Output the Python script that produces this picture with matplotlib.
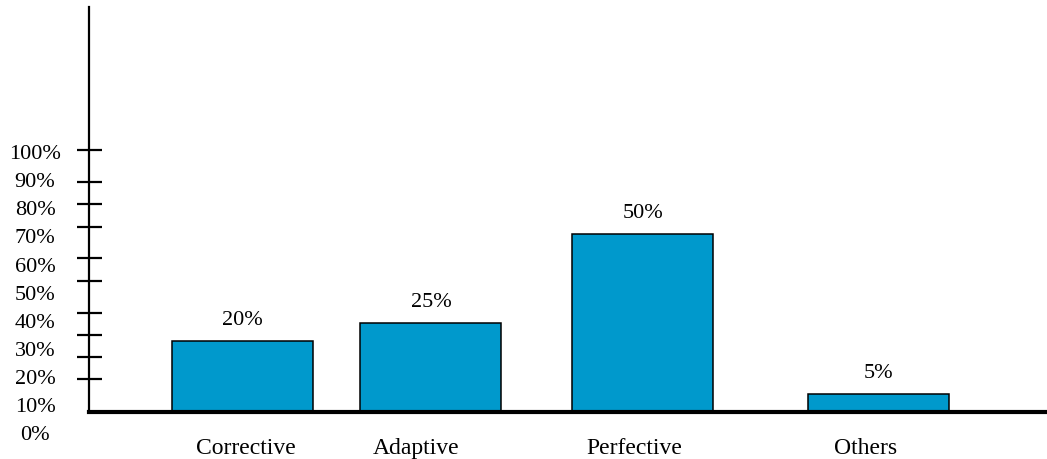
import numpy as np
import matplotlib.pyplot as plt
import matplotlib.ticker as mticker

plt.rcParams['font.family'] = ['Liberation Serif', 'DejaVu Serif']

# maintenance effort by category
categories = ['Corrective', 'Adaptive', 'Perfective', 'Others']
shares = [20, 25, 50, 5]
value_labels = ['20%', '25%', '50%', '5%']
axis_labels = ['0%', '10%', '20%', '30%', '40%', '50%', '60%', '70%', '80%', '90%', '100%']

W, H = 1047, 459
fig = plt.figure(figsize=(W / 100, H / 100), dpi=100)

# main plotting area, x measured in pixels across the figure
left, base, top = 89, 411.5, 7
ax = fig.add_axes([left / W, (H - base) / H, (W - left) / W, (base - top) / H])
ymax = 114
ax.set_xlim(left, W)
ax.set_ylim(0, ymax)

bar_x = [242.5, 431, 643, 878.5]
label_x = [246, 416.5, 634.5, 866]
ax.bar(bar_x, shares, width=141, color='#0099cc', edgecolor='black', linewidth=1.1)

for x, v, s in zip(bar_x, shares, value_labels):
    ax.annotate(s, (x, v), xytext=(0, 14.5), textcoords='offset points',
                ha='center', va='center', fontsize=16)

# tick marks crossing the vertical axis (as fraction of axis height)
tick_frac = np.array([32.5, 54.5, 76.5, 98.5, 130.5, 153.5, 184.5, 207.5, 229.5, 261.5]) / (base - top)
ax.set_yticks(tick_frac * ymax)
ax.set_yticklabels([])
ax.tick_params(axis='y', direction='inout', length=18, width=1.6, color='black')

ax.set_xticks(label_x, categories)
ax.tick_params(axis='x', length=0, pad=19, labelsize=17)

for side in ['top', 'right']:
    ax.spines[side].set_visible(False)
ax.spines['left'].set_linewidth(1.6)
ax.spines['bottom'].set_linewidth(3)
ax.patch.set_visible(False)

# percent labels down the left side
zero_y, hundred_y = 433.5, 152
lab = fig.add_axes([35 / W, (H - zero_y) / H, 0.001, (zero_y - hundred_y) / H])
lab.set_ylim(0, 100)
lab.yaxis.set_major_locator(mticker.FixedLocator(np.arange(0, 101, 10)))
lab.set_yticklabels(axis_labels)
for t in lab.get_yticklabels():
    t.set_horizontalalignment('center')
lab.tick_params(axis='y', length=0, pad=0, labelsize=16)
lab.set_xticks([])
for s in lab.spines.values():
    s.set_visible(False)
lab.patch.set_visible(False)

fig.savefig('out.png', dpi=100)
